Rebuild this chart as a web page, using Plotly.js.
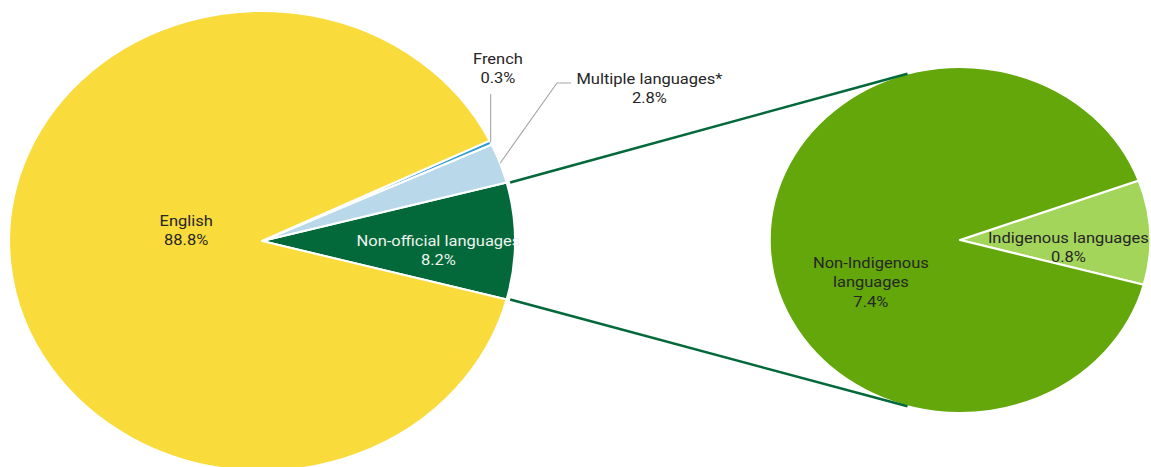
<!DOCTYPE html>
<html>
<head>
<meta charset="utf-8">
<script src="https://cdn.plot.ly/plotly-3.0.1.min.js"></script>
<style>
html,body{margin:0;padding:0;overflow:hidden;background:#fff;width:1151px;height:467px;}
#chart{width:1046px;height:480px;transform:scaleX(1.1);transform-origin:0 0;}
</style>
</head>
<body>
<div id="chart"></div>
<script>
// ---- data ----
var mainLabels = ["Non-official languages", "Multiple languages*", "French", "English"];
var mainValues = [8.2, 2.8, 0.3, 88.8];
var mainColors = ["#03693A", "#B9D8EA", "#2E9BD6", "#FADB3C"];

var subLabels = ["Indigenous languages", "Non-Indigenous languages"];
var subValues = [0.8, 7.4];
var subColors = ["#A3D55B", "#63A70A"];

// ---- geometry (layout only) ----
var S = 1.1, W0 = 1046, H = 480;
var L = {cx: 238.2, cy: 241, r: 230};
var R = {cx: 872.7, cy: 240, r: 173};
function px(x){ return x / W0; }          // unstretched px -> paper
function py(y){ return 1 - y / H; }
function sx(x){ return x / (W0 * S); }    // stretched px -> paper
function dom(c){ return {x:[px(c.cx-c.r), px(c.cx+c.r)], y:[py(c.cy+c.r), py(c.cy-c.r)]}; }
function pt(c, deg){ var a = deg*Math.PI/180; return [px(c.cx + c.r*Math.cos(a)), py(c.cy - c.r*Math.sin(a))]; }

var mainTotal = mainValues.reduce(function(a,b){return a+b;},0);
var subTotal = subValues.reduce(function(a,b){return a+b;},0);
var halfMain = 0.5 * mainValues[0] / mainTotal * 360;
var subSpan = subValues[0] / subTotal * 360;

var traces = [
  {type:"pie", labels: mainLabels, values: mainValues, sort:false, direction:"counterclockwise",
   rotation: 90 - halfMain, marker:{colors: mainColors, line:{color:"#ffffff", width:2}},
   textinfo:"none", hoverinfo:"label+percent", domain: dom(L), showlegend:false},
  {type:"pie", labels: subLabels, values: subValues, sort:false, direction:"counterclockwise",
   rotation: 105 - subSpan, marker:{colors: subColors, line:{color:"#ffffff", width:2}},
   textinfo:"none", hoverinfo:"label+value", domain: dom(R), showlegend:false}
];

// connector lines
var a1 = pt(L, halfMain), a2 = pt(L, -halfMain);
var b1 = pt(R, 106), b2 = pt(R, -106);
// leader lines from slice midpoints
var midMulti = halfMain + 0.5 * mainValues[1] / mainTotal * 360;
var midFrench = halfMain + mainValues[1] / mainTotal * 360 + 0.5 * mainValues[2] / mainTotal * 360;
var pm = pt(L, midMulti), pf = pt(L, midFrench);

var shapes = [
  {type:"line", xref:"paper", yref:"paper", x0:a1[0]+0.003, y0:a1[1], x1:b1[0], y1:b1[1], line:{color:"#03693A", width:2.5}},
  {type:"line", xref:"paper", yref:"paper", x0:a2[0]+0.003, y0:a2[1], x1:b2[0], y1:b2[1], line:{color:"#03693A", width:2.5}},
  {type:"path", xref:"paper", yref:"paper", path:"M "+pf[0]+","+pf[1]+" L "+pf[0]+","+py(94), line:{color:"#A6A6A6", width:1}},
  {type:"path", xref:"paper", yref:"paper", path:"M "+pm[0]+","+pm[1]+" L "+sx(557)+","+py(83)+" L "+sx(571)+","+py(83), line:{color:"#A6A6A6", width:1}}
];

function pct(v){ return v.toFixed(1) + "%"; }
var f = {family:"Roboto, 'Open Sans', sans-serif", size:15, color:"#262626"};
function ann(x, y, text, color){
  return {xref:"paper", yref:"paper", x:sx(x), y:py(y), text:text, showarrow:false,
          xanchor:"center", yanchor:"middle", align:"center",
          font:{family:f.family, size:f.size, color: color || f.color}};
}
var annotations = [
  ann(187, 231, mainLabels[3] + "<br>" + pct(mainValues[3])),
  ann(438, 251, mainLabels[0] + "<br>" + pct(mainValues[0]), "#EEF3EE"),
  ann(498, 69, mainLabels[2] + "<br>" + pct(mainValues[2])),
  ann(650, 89, mainLabels[1] + "<br>" + pct(mainValues[1])),
  ann(871, 282, "Non-Indigenous<br>languages<br>" + pct(subValues[1])),
  ann(1068, 248, subLabels[0] + "<br>" + pct(subValues[0]))
];

var layout = {
  width: W0, height: H, margin:{l:0,r:0,t:0,b:0},
  paper_bgcolor:"#ffffff", plot_bgcolor:"#ffffff",
  showlegend:false, shapes: shapes, annotations: annotations
};
Plotly.newPlot("chart", traces, layout, {displayModeBar:false, staticPlot:true});
</script>
</body>
</html>
